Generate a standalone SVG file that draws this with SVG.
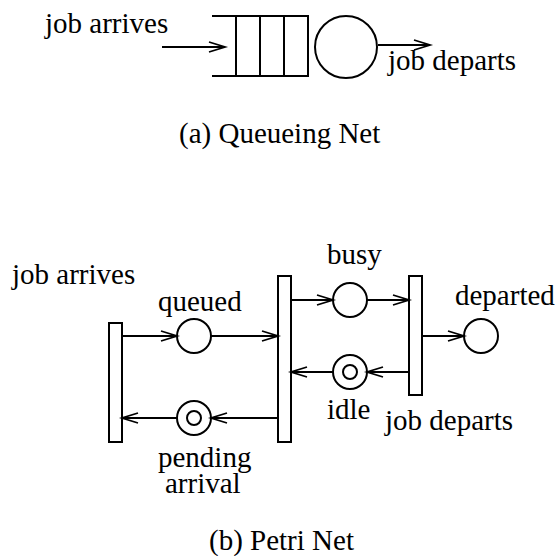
<svg xmlns="http://www.w3.org/2000/svg" width="560" height="556" viewBox="0 0 560 556">
<defs>
<marker id="arr" markerUnits="userSpaceOnUse" markerWidth="40" markerHeight="40" refX="0" refY="0" orient="auto" overflow="visible">
<path d="M-16,-5 L0,0 L-16,5" fill="none" stroke="#000" stroke-width="1.8" stroke-linejoin="miter"/>
</marker>
</defs>
<style>
text{font-family:"Liberation Serif","Times New Roman",serif;font-size:29px;fill:#000}
.s{fill:none;stroke:#000;stroke-width:2}
.t{fill:#fff;stroke:#000;stroke-width:2}
.c line{stroke:#000;stroke-width:2;marker-end:url(#arr)}
</style>
<rect width="560" height="556" fill="#fff"/>
<g id="queue">
<path class="s" d="M212,16 H308 V76 H212 M236,16 V76 M260,16 V76 M284,16 V76"/>
</g>
<g id="server"><circle class="s" cx="346" cy="47" r="31"/></g>
<g id="qlabels">
<text x="45" y="33">job arrives</text>
<text x="388" y="70">job departs</text>
<text x="179" y="143">(a) Queueing Net</text>
</g>
<g id="t1"><rect class="t" x="109" y="323" width="13" height="119"/><text x="12" y="284">job arrives</text></g>
<g id="t2"><rect class="t" x="278" y="276" width="13" height="166"/></g>
<g id="t3"><rect class="t" x="409" y="276" width="13" height="119"/><text x="385" y="430">job departs</text></g>
<g id="queued"><circle class="s" cx="194" cy="336" r="17"/><text x="158" y="311">queued</text></g>
<g id="busy"><circle class="s" cx="350" cy="300" r="17"/><text x="327" y="264">busy</text></g>
<g id="departed"><circle class="s" cx="481" cy="336" r="17"/><text x="455" y="305">departed</text></g>
<g id="idle"><circle class="s" cx="350" cy="372" r="17"/><circle class="s" cx="350" cy="372" r="7"/><text x="327" y="419">idle</text></g>
<g id="pending"><circle class="s" cx="194" cy="418" r="17"/><circle class="s" cx="194" cy="418" r="7"/><text x="158" y="467">pending</text><text x="165" y="493">arrival</text></g>
<text x="209" y="550">(b) Petri Net</text>
<g class="c" id="connectors">
<line x1="162" y1="47" x2="225" y2="47"/>
<line x1="378" y1="45" x2="430" y2="45"/>
<line x1="123" y1="336" x2="177" y2="336"/>
<line x1="211" y1="336" x2="278" y2="336"/>
<line x1="292" y1="300" x2="333" y2="300"/>
<line x1="367" y1="300" x2="409" y2="300"/>
<line x1="423" y1="336" x2="464" y2="336"/>
<line x1="409" y1="372" x2="367" y2="372"/>
<line x1="333" y1="372" x2="291" y2="372"/>
<line x1="278" y1="418" x2="211" y2="418"/>
<line x1="177" y1="418" x2="122" y2="418"/>
</g>
</svg>
